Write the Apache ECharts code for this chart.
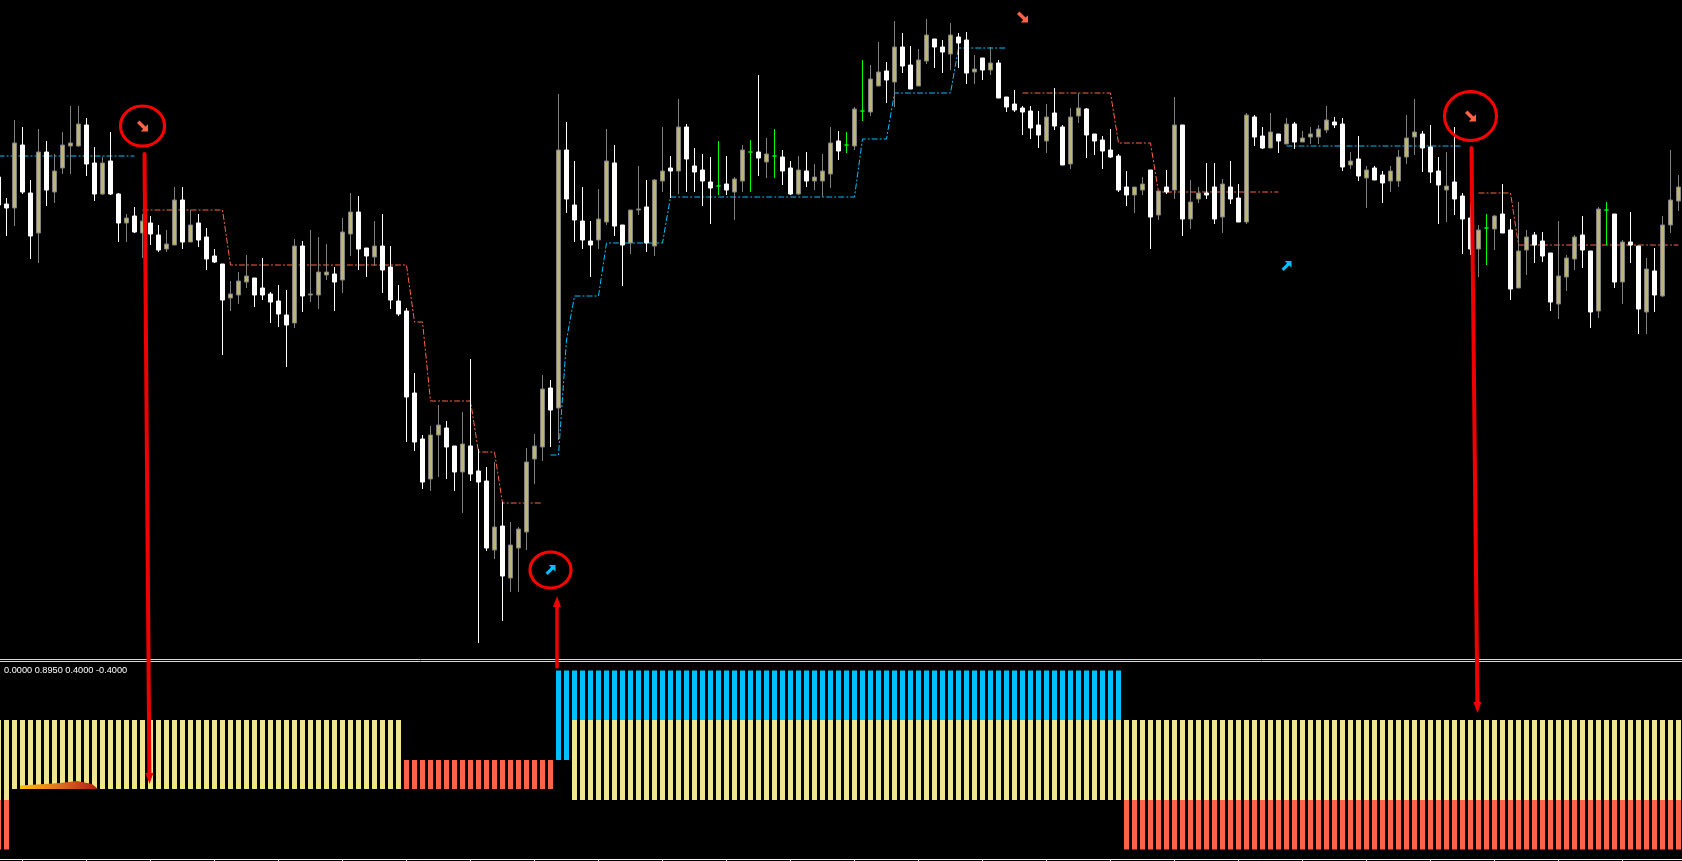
<!DOCTYPE html>
<html>
<head>
<meta charset="utf-8">
<script src="https://cdn.jsdelivr.net/npm/echarts@6/dist/echarts.min.js"></script>
<style>
html,body{margin:0;padding:0;background:#000;}
#c{width:1682px;height:861px;}
</style>
</head>
<body>
<div id="c"></div>
<script>
const _ = null;
const firstBar = -1;   // bar numbers run from -1 (partly hidden at the left edge) to 209

// ---- price candles (chart units), grouped by 10 bars; first value = bar -1 ----
const opens = [483,
 456,452,515,467,427,508,468,492,514,514,
 535,497,466,499,466,437,444,427,437,425,
 411,415,460,418,437,423,404,396,362,365,
 378,382,372,366,359,345,337,414,365,365,
 385,386,380,426,448,412,403,414,393,359,
 349,267,221,181,225,232,214,188,214,189,
 179,110,134,82,112,128,201,213,272,252,
 510,455,439,419,420,438,497,435,417,450,
 453,414,479,492,489,533,494,490,478,474,
 476,468,479,508,508,498,504,503,492,466,
 489,479,479,486,519,515,514,549,548,574,
 589,578,613,595,574,599,621,613,606,623,
 620,588,602,590,597,563,556,552,549,535,
 519,547,533,496,544,551,526,520,510,504,
 473,465,470,490,445,473,470,535,441,461,
 467,473,443,473,462,438,543,524,512,526,
 516,536,518,523,523,530,538,536,495,501,
 482,492,485,479,479,503,523,526,513,489,
 470,478,464,442,411,432,431,446,430,372,
 410,425,419,407,356,383,401,425,409,349,
 450,446,378,418,414,348,389,364,435,459];
const closes = [455,
 452,517,468,424,508,470,489,515,517,536,
 496,466,497,466,437,442,428,439,426,410,
 416,460,418,435,420,401,398,360,366,379,
 384,365,365,358,346,335,414,364,366,388,
 388,378,428,448,411,404,414,390,360,346,
 263,218,178,225,235,213,188,216,186,178,
 112,133,84,115,131,198,214,271,250,510,
 461,440,420,415,441,499,434,415,450,451,
 417,480,489,489,533,501,488,479,472,474,
 470,481,510,508,502,506,504,489,466,490,
 479,483,489,517,509,515,551,549,581,588,
 580,613,594,571,600,625,613,608,625,617,
 587,591,590,597,562,553,550,548,532,525,
 543,534,495,543,552,525,519,509,503,470,
 465,473,476,443,469,468,535,441,458,467,
 465,441,476,461,438,545,523,512,528,519,
 536,518,522,526,531,540,535,493,499,484,
 490,480,477,489,503,522,528,512,488,475,
 474,461,441,411,430,432,444,427,371,409,
 423,415,404,358,384,402,423,410,348,451,
 450,378,418,415,351,391,365,435,460,473];
const lows = [448,
 424,434,466,401,397,454,457,486,486,513,
 484,459,465,465,418,418,427,402,415,408,
 408,415,411,418,413,390,397,305,349,356,
 372,353,360,337,333,293,332,348,358,351,
 380,349,367,404,390,383,394,367,351,344,
 218,209,171,169,183,181,169,147,179,17,
 109,101,39,68,68,110,176,199,213,220,
 447,418,411,383,411,435,424,374,406,445,
 408,404,468,462,466,468,468,454,436,465,
 465,440,468,468,484,482,482,475,465,465,
 473,470,463,472,500,507,510,539,544,574,
 557,553,587,571,574,596,592,587,590,592,
 576,576,580,585,562,548,548,525,521,512,
 507,530,495,491,537,502,505,491,502,468,
 454,447,465,411,440,466,461,424,431,457,
 461,436,427,456,438,436,514,511,512,507,
 516,511,518,516,516,527,532,489,491,479,
 452,480,457,468,473,496,505,488,477,436,
 438,445,406,405,383,395,410,427,360,372,
 385,397,398,349,341,369,390,392,332,342,
 415,372,356,397,326,326,348,363,427,449];
const highs = [490,
 462,540,533,480,531,519,506,528,554,554,
 542,513,503,528,467,446,453,446,444,435,
 430,473,473,450,446,432,411,396,379,388,
 405,382,402,368,375,370,421,419,430,423,
 416,393,442,467,464,412,439,446,414,375,
 352,287,225,234,255,239,214,248,301,211,
 193,198,158,138,133,212,226,285,280,566,
 538,499,473,439,471,531,515,435,450,494,
 480,481,533,504,561,536,512,506,503,519,
 504,483,515,520,585,522,531,510,499,504,
 508,496,506,533,529,528,553,600,595,618,
 598,639,627,614,611,641,621,620,637,627,
 628,605,602,613,600,563,570,554,554,549,
 556,572,535,552,567,552,526,524,531,506,
 489,473,483,490,469,490,563,535,480,473,
 497,497,481,499,476,547,545,533,547,526,
 542,538,529,533,535,554,543,542,508,524,
 494,494,489,494,510,545,561,529,535,503,
 508,533,467,458,435,446,445,476,441,458,
 430,428,428,407,439,405,425,444,409,453,
 458,446,420,448,414,402,412,444,510,485];

// ---- trailing stop levels (dash-dot lines) ----
const buyStop = [504,
 504,504,504,504,504,504,504,504,504,504,
 504,504,504,504,504,504,504,_,_,_,
 _,_,_,_,_,_,_,_,_,_,
 _,_,_,_,_,_,_,_,_,_,
 _,_,_,_,_,_,_,_,_,_,
 _,_,_,_,_,_,_,_,_,_,
 _,_,_,_,_,_,_,_,205,205,
 320,364,364,364,364,417,417,417,417,417,
 417,417,417,463,463,463,463,463,463,463,
 463,463,463,463,463,463,463,463,463,463,
 463,463,463,463,463,463,463,521,521,521,
 521,567,567,567,567,567,567,567,567,612,
 612,612,612,612,612,612,_,_,_,_,
 _,_,_,_,_,_,_,_,_,_,
 _,_,_,_,_,_,_,_,_,_,
 _,_,_,_,_,_,_,_,_,_,
 514,514,514,514,514,514,514,514,514,514,
 514,514,514,514,514,514,514,514,514,514,
 514,514,514,_,_,_,_,_,_,_,
 _,_,_,_,_,_,_,_,_,_,
 _,_,_,_,_,_,_,_,_,_];
const sellStop = [_,
 _,_,_,_,_,_,_,_,_,_,
 _,_,_,_,_,_,_,450,450,450,
 450,450,450,450,450,450,450,450,395,395,
 395,395,395,395,395,395,395,395,395,395,
 395,395,395,395,395,395,395,395,395,395,
 395,338,338,259,259,259,259,259,259,208,
 208,208,157,157,157,157,157,157,_,_,
 _,_,_,_,_,_,_,_,_,_,
 _,_,_,_,_,_,_,_,_,_,
 _,_,_,_,_,_,_,_,_,_,
 _,_,_,_,_,_,_,_,_,_,
 _,_,_,_,_,_,_,_,_,_,
 _,_,_,_,_,_,_,567,567,567,
 567,567,567,567,567,567,567,567,567,517,
 517,517,517,517,468,468,468,468,468,468,
 468,468,468,468,468,468,468,468,468,468,
 _,_,_,_,_,_,_,_,_,_,
 _,_,_,_,_,_,_,_,_,_,
 _,_,_,_,467,467,467,467,467,415,
 415,415,415,415,415,415,415,415,415,415,
 415,415,415,415,415,415,415,415,415,415];

// ---- signal arrows ----
const sellSignalBars = [17, 127, 183];
const sellSignalPrices = [534, 643, 544];
const buySignalBars = [68, 160];
const buySignalPrices = [90, 394];
// circled signals (bar, price, ring width, ring height)
const circledBars = [17, 68, 183];
const circledPrices = [534, 90, 544];
const circleSizes = [[44, 40], [41, 36], [52, 49]];

// ---- indicator histogram: state letter per bar (first = bar -1) ----
const histStates = [
 'S',
 'SAAAAAAAAA','AAAAAAAAAA','AAAAAAAAAA','AAAAAAAAAA','AAAAAAAAAA',
 'RRRRRRRRRR','RRRRRRRRRT','TBBBBBBBBB','BBBBBBBBBB','BBBBBBBBBB',
 'BBBBBBBBBB','BBBBBBBBBB','BBBBBBBBBB','BBBBBBBBBB','SSSSSSSSSS',
 'SSSSSSSSSS','SSSSSSSSSS','SSSSSSSSSS','SSSSSSSSSS','SSSSSSSSSS','SSSSSSSSSS'
].join('');
const histLevels = { top: 0.895, upper: 0.4, zero: 0, base: -0.29, lower: -0.4, bottom: -0.895 };
const indicatorLabel = '0.0000 0.8950 0.4000 -0.4000';
const HIST_COLORS = ['#00bfff', '#f0e68c', '#ff6347'];

// ---------------------------------------------------------------
const barNumbers = [];
for (let i = 0; i < opens.length; i++) barNumbers.push(String(firstBar + i));
const pos = b => b - firstBar;

const candleData = opens.map((o, k) => [o, closes[k], lows[k], highs[k]]);

const L = histLevels;
const stateSegments = {
  S: [[L.lower, L.upper, 1], [L.bottom, L.lower, 2]],
  A: [[L.base, L.upper, 1]],
  R: [[L.base, L.zero, 2]],
  T: [[L.zero, L.top, 0]],
  B: [[L.upper, L.top, 0], [L.lower, L.upper, 1]]
};
const histData = [];
for (let k = 0; k < histStates.length; k++) {
  stateSegments[histStates[k]].forEach(s => histData.push([k, s[0], s[1], s[2]]));
}

const sellArrow = 'path://M0,2L2,0L7,5L9,3L9,9L3,9L5,7Z';
const buyArrow = 'path://M0,7L2,9L7,4L9,6L9,0L3,0L5,2Z';

const chart = echarts.init(document.getElementById('c'), null, { renderer: 'canvas' });
const W = 8 * opens.length;

const option = {
  backgroundColor: '#000000',
  animation: false,
  grid: [
    { left: -5.5, width: W, top: 0, height: 660, containLabel: false, outerBoundsMode: 'none' },
    { left: -5.5, width: W, top: 661, height: 198, containLabel: false, outerBoundsMode: 'none' }
  ],
  xAxis: [
    { type: 'category', gridIndex: 0, data: barNumbers, boundaryGap: true, show: false },
    { type: 'category', gridIndex: 1, data: barNumbers, boundaryGap: true, position: 'bottom',
      axisLine: { show: true, onZero: false, lineStyle: { color: '#ffffff', width: 1 } },
      axisTick: { show: true, alignWithLabel: true, length: 4, inside: false,
        interval: (idx) => ((idx + firstBar) - 2) % 8 === 0,
        lineStyle: { color: '#ffffff' } },
      axisLabel: { show: false }, splitLine: { show: false } }
  ],
  yAxis: [
    { type: 'value', gridIndex: 0, min: 0, max: 660, show: false, splitLine: { show: false } },
    { type: 'value', gridIndex: 1, min: -0.99, max: 0.99, show: false, splitLine: { show: false } }
  ],
  series: [
    {
      type: 'candlestick', xAxisIndex: 0, yAxisIndex: 0, data: candleData, barWidth: 5,
      itemStyle: { color: '#bdb76b', color0: '#ffffff', borderColor: '#808080', borderColor0: '#ffffff',
        borderColorDoji: '#00ff00', borderWidth: 1 },
      z: 3
    },
    {
      type: 'line', xAxisIndex: 0, yAxisIndex: 0, data: buyStop, symbol: 'none', connectNulls: false,
      lineStyle: { color: '#00bfff', width: 1, type: [6, 2, 2, 2] }, z: 2
    },
    {
      type: 'line', xAxisIndex: 0, yAxisIndex: 0, data: sellStop, symbol: 'none', connectNulls: false,
      lineStyle: { color: '#ff6347', width: 1, type: [6, 2, 2, 2] }, z: 2
    },
    {
      type: 'scatter', xAxisIndex: 0, yAxisIndex: 0, symbol: sellArrow, symbolSize: 11,
      data: sellSignalBars.map((b, k) => [pos(b), sellSignalPrices[k]]),
      itemStyle: { color: '#ff6347', opacity: 1 }, z: 5
    },
    {
      type: 'scatter', xAxisIndex: 0, yAxisIndex: 0, symbol: buyArrow, symbolSize: 10,
      data: buySignalBars.map((b, k) => [pos(b), buySignalPrices[k]]),
      itemStyle: { color: '#00bfff', opacity: 1 }, z: 5
    },
    {
      type: 'scatter', xAxisIndex: 0, yAxisIndex: 0, symbol: 'circle',
      data: circledBars.map((b, k) => ({ value: [pos(b), circledPrices[k]], symbolSize: circleSizes[k] })),
      itemStyle: { color: 'rgba(0,0,0,0)', borderColor: '#ff0000', borderWidth: 3, opacity: 1 }, z: 6
    },
    {
      type: 'custom', xAxisIndex: 1, yAxisIndex: 1, data: histData,
      renderItem: function (params, api) {
        const x = api.value(0), lo = api.value(1), hi = api.value(2), c = api.value(3);
        const p1 = api.coord([x, hi]);
        const p2 = api.coord([x, lo]);
        const w = api.size([1, 0])[0] * 0.625;
        return { type: 'rect', shape: { x: p1[0] - w / 2, y: p1[1], width: w, height: p2[1] - p1[1] },
          style: { fill: HIST_COLORS[c] } };
      },
      z: 2
    }
  ]
};
chart.setOption(option);

// ---- annotation arrows (anchored through the axes) ----
function px(grid, bar, v, dx) {
  const p = chart.convertToPixel({ gridIndex: grid }, [pos(bar), v]);
  return [p[0] + dx, p[1]];
}
const annotations = [
  { from: px(0, 17, 506, 2), to: px(1, 17, -0.24, 7), w: 4 },
  { from: px(1, 69, 0.93, -1.5), to: px(0, 69, 64, -1.5), w: 3.5 },
  { from: px(0, 183, 512, 1), to: px(1, 183, 0.47, 7), w: 4 }
];
const graphics = [];
annotations.forEach((a, k) => {
  const dx = a.to[0] - a.from[0], dy = a.to[1] - a.from[1];
  const len = Math.sqrt(dx * dx + dy * dy);
  const ux = dx / len, uy = dy / len, nx = -uy, ny = ux;
  const hl = 11, hw = 4;
  const bx = a.to[0] - ux * hl, by = a.to[1] - uy * hl;
  graphics.push({ type: 'line', z: 100, shape: { x1: a.from[0], y1: a.from[1], x2: bx + ux * 2, y2: by + uy * 2 },
    style: { stroke: '#f00000', lineWidth: a.w, lineCap: 'round' } });
  graphics.push({ type: 'polygon', z: 100, shape: { points: [[a.to[0], a.to[1]], [bx + nx * hw, by + ny * hw], [bx - nx * hw, by - ny * hw]] },
    style: { fill: '#f00000' } });
});
// panel separator
graphics.push({ type: 'line', z: 50, shape: { x1: 0, y1: 659.5, x2: 1682, y2: 659.5 }, style: { stroke: '#d8d8d8', lineWidth: 1 } });
graphics.push({ type: 'line', z: 50, shape: { x1: 0, y1: 661.5, x2: 1682, y2: 661.5 }, style: { stroke: '#d8d8d8', lineWidth: 1 } });
// indicator header
graphics.push({ type: 'text', z: 50, x: 4, y: 665.5,
  style: { text: indicatorLabel, fill: '#ffffff', fontSize: 9.2, fontFamily: 'Liberation Sans', textVerticalAlign: 'top' } });
// small gradient tag at the lower left
graphics.push({ type: 'polygon', z: 40,
  shape: { points: [[20, 789], [20, 785.5], [60, 783], [77, 781], [92, 784], [98, 789]] },
  style: { fill: new echarts.graphic.LinearGradient(0, 0, 1, 0, [
    { offset: 0, color: '#ffc000' }, { offset: 0.5, color: '#e07020' }, { offset: 1, color: '#b01818' }]) } });

chart.setOption({ graphic: graphics });
</script>
</body>
</html>
